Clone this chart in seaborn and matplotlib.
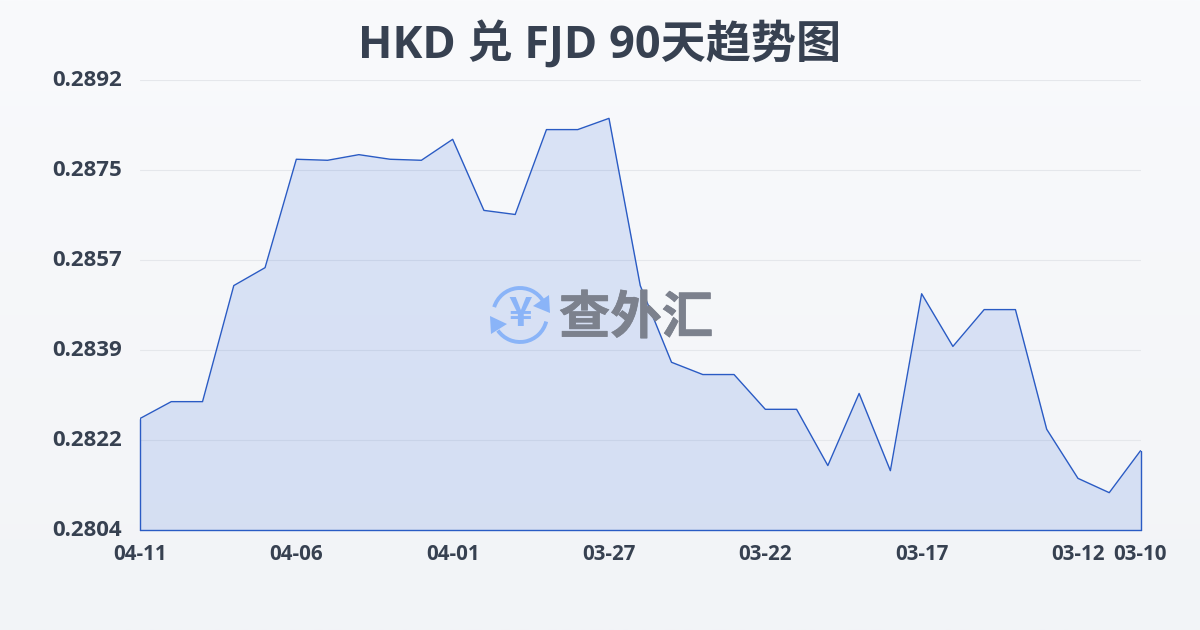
import numpy as np
import pandas as pd
import seaborn as sns
import matplotlib.pyplot as plt
import matplotlib.patheffects as pe
from matplotlib.colors import LinearSegmentedColormap
from matplotlib.patches import Arc, Polygon
from matplotlib.transforms import ScaledTranslation

# values, newest date first
rates = [0.28258, 0.28291, 0.28291, 0.28518, 0.28553, 0.28765, 0.28763, 0.28774, 0.28765, 0.28763, 0.28804,
         0.28665, 0.28657, 0.28823, 0.28823, 0.28845, 0.28518, 0.28368, 0.28344, 0.28344, 0.28276, 0.28276,
         0.28166, 0.28307, 0.28156, 0.28502, 0.28399, 0.28471, 0.28471, 0.28237, 0.28141, 0.28113, 0.28195]
x_pos = list(range(len(rates)))
x_ticks = [0, 5, 10, 15, 20, 25, 30, 32]
x_labels = ["04-11", "04-06", "04-01", "03-27", "03-22", "03-17", "03-12", "03-10"]
y_labels = ["0.2804", "0.2822", "0.2839", "0.2857", "0.2875", "0.2892"]
y_min = 0.2804
y_max = 0.2892
title = "HKD 兑 FJD 90天趋势图"

sns.set_theme(style="white")
plt.rcParams['font.family'] = ['Open Sans', 'Noto Sans CJK SC', 'DejaVu Sans']

W, H = 1200, 630
line_col = "#2a5bc4"
fill_col = "#2f66dc"
text_col = "#374151"
grid_col = "#e5e7eb"

fig = plt.figure(figsize=(12, 6.3), dpi=100)

# background gradient
bg = fig.add_axes([0, 0, 1, 1], zorder=0)
bg_cmap = LinearSegmentedColormap.from_list("bg", ["#f9fafc", "#f2f4f7"])
bg.imshow(np.linspace(0, 1, 256).reshape(-1, 1), aspect="auto", cmap=bg_cmap)
bg.axis("off")

ax = fig.add_axes([140 / W, 1 - 530 / H, 1000.5 / W, 450 / H], zorder=1)
ax.patch.set_alpha(0)

df = pd.DataFrame({"x": x_pos, "rate": rates})
sns.lineplot(data=df, x="x", y="rate", ax=ax, color=line_col, linewidth=1, zorder=3)
ax.fill_between(x_pos, rates, y_min, color=fill_col, alpha=0.15, linewidth=0, zorder=2)
# the area outline closes down to the axis
ax.plot([x_pos[0], x_pos[0]], [y_min, rates[0]], color=line_col, lw=1, zorder=3, clip_on=False)
ax.plot([x_pos[-1], x_pos[-1]], [y_min, rates[-1]], color=line_col, lw=1, zorder=3, clip_on=False)
ax.plot([x_pos[0], x_pos[-1]], [y_min, y_min], color=line_col, lw=1, zorder=3, clip_on=False)

ax.set_xlim(x_pos[0], x_pos[-1])
ax.set_ylim(y_min, y_max)
ax.set_xlabel("")
ax.set_ylabel("")
ax.set_yticks(np.linspace(y_min, y_max, len(y_labels)))
ax.set_yticklabels(y_labels, fontsize=16, fontweight="bold", color=text_col, va="center")
ax.set_xticks(x_ticks)
ax.set_xticklabels(x_labels, fontsize=14.8, fontweight="bold", color=text_col)
for lab in ax.get_yticklabels():
    lab.set_transform(lab.get_transform() + ScaledTranslation(0, 2 / 100, fig.dpi_scale_trans))
ax.tick_params(axis="y", length=0, pad=13)
ax.tick_params(axis="x", length=7, width=0.8, color=grid_col, pad=3)
ax.grid(axis="y", color=grid_col, linewidth=0.8, zorder=1)
ax.set_axisbelow(True)
sns.despine(ax=ax, left=True, bottom=True)

fig.text(0.5, 1 - 46 / H, title, ha="center", va="center", fontsize=32.5, fontweight="bold", color=text_col)

# watermark, in pixel coordinates
wm = fig.add_axes([0, 0, 1, 1], zorder=2)
wm.set_xlim(0, W)
wm.set_ylim(H, 0)
wm.axis("off")
wm_blue = "#8ab4f8"
wm.add_patch(Arc((520, 315), 54, 54, theta1=197, theta2=328, color=wm_blue, lw=2.8))
wm.add_patch(Arc((520, 315), 54, 54, theta1=14, theta2=145, color=wm_blue, lw=2.8))
wm.add_patch(Polygon([(549, 295), (550, 313), (533, 306)], color=wm_blue, lw=0))
wm.add_patch(Polygon([(490, 316), (507, 324), (491, 334)], color=wm_blue, lw=0))
wm.text(520, 315, "¥", ha="center", va="center", fontsize=29, fontweight="bold", color=wm_blue,
        family=['Noto Sans CJK SC', 'DejaVu Sans'])
wm.text(636, 318, "查外汇", ha="center", va="center", fontsize=37, fontweight="bold",
        color="#7c818d", family=['Noto Sans CJK SC', 'DejaVu Sans'],
        path_effects=[pe.withStroke(linewidth=0.5, foreground="#7c818d")])

fig.savefig("out.png", dpi=100)
